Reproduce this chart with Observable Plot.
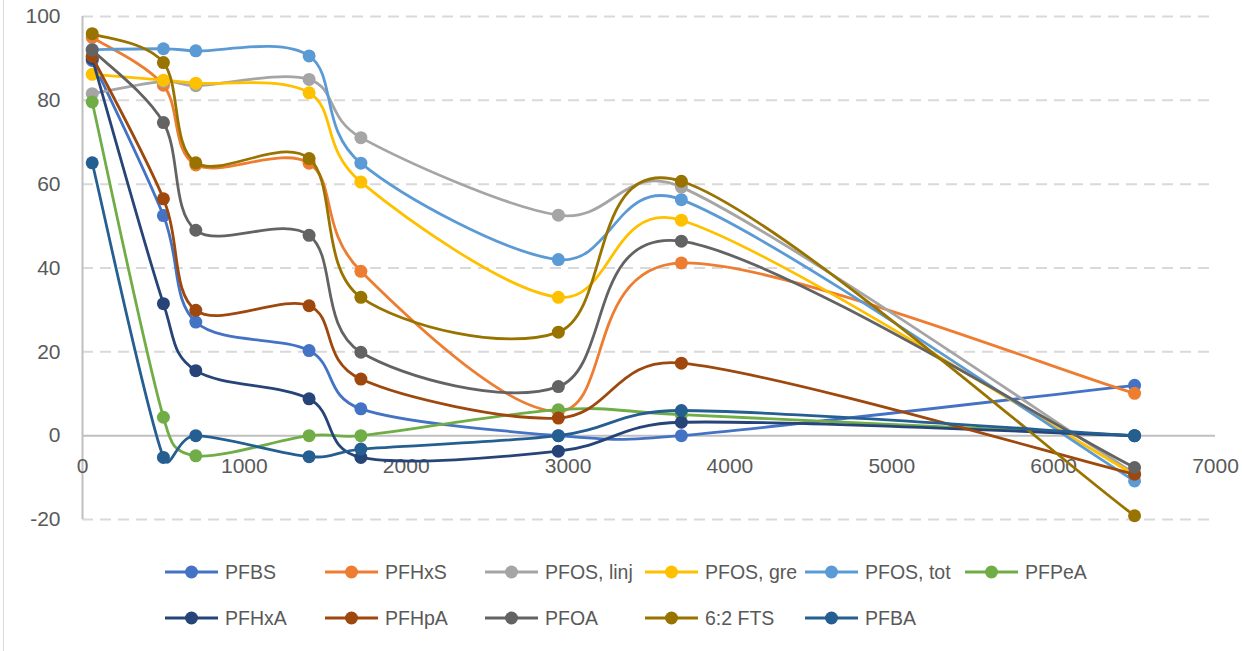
<!DOCTYPE html>
<html>
<head>
<meta charset="utf-8">
<script src="https://cdn.jsdelivr.net/npm/d3@7"></script>
<script src="https://cdn.jsdelivr.net/npm/@observablehq/plot@0.6"></script>
<style>
  html, body { margin: 0; padding: 0; background: #fff; }
  #wrap { position: relative; width: 1242px; height: 651px; overflow: hidden; }
  #frame { position: absolute; left: 3px; top: 0; width: 0; height: 651px; border-left: 1px solid #D9D9D9; }
  .leg { position: absolute; display: flex; align-items: center; height: 24px; font-family: "Liberation Sans", Arial, sans-serif; font-size: 19.5px; color: #595959; white-space: nowrap; }
  .leg svg { margin-right: 7px; }
</style>
</head>
<body>
<div id="wrap"><div id="frame"></div></div>
<script>
// Data
const xValues = [60, 500, 700, 1400, 1720, 2940, 3700, 6500];
const seriesNames = ["PFBS", "PFHxS", "PFOS, linj", "PFOS, gre", "PFOS, tot", "PFPeA", "PFHxA", "PFHpA", "PFOA", "6:2 FTS", "PFBA"];
const seriesColors = ["#4472C4", "#ED7D31", "#A5A5A5", "#FFC000", "#5B9BD5", "#70AD47", "#264478", "#9E480E", "#636363", "#997300", "#255E91"];

const PFBS     = [89.5, 52.5, 27.1, 20.3,  6.4,  0.0,  0.0,  12.0];
const PFHxS    = [95.0, 83.6, 64.6, 65.0, 39.2,  5.8, 41.2,  10.1];
const PFOS_linj= [81.6, 84.5, 83.5, 85.0, 71.1, 52.6, 59.3,  -9.0];
const PFOS_gre = [86.2, 84.8, 84.1, 81.8, 60.5, 33.0, 51.4,  -9.3];
const PFOS_tot = [92.1, 92.3, 91.8, 90.6, 65.0, 42.0, 56.3, -10.8];
const PFPeA    = [79.6,  4.4, -4.8,  0.0,  0.0,  6.2,  5.0,   0.0];
const PFHxA    = [90.0, 31.5, 15.5,  8.8, -5.2, -3.7,  3.2,   0.0];
const PFHpA    = [90.5, 56.5, 29.9, 31.0, 13.5,  4.2, 17.3,  -9.2];
const PFOA     = [92.0, 74.7, 49.0, 47.8, 19.9, 11.7, 46.4,  -7.6];
const FTS62    = [95.9, 89.0, 65.1, 66.1, 33.0, 24.7, 60.7, -19.1];
const PFBA     = [65.1, -5.2,  0.0, -5.0, -3.2,  0.0,  6.0,   0.0];

const seriesValues = [PFBS, PFHxS, PFOS_linj, PFOS_gre, PFOS_tot, PFPeA, PFHxA, PFHpA, PFOA, FTS62, PFBA];
const xTicks = [0, 1000, 2000, 3000, 4000, 5000, 6000, 7000];
const yTicks = [-20, 0, 20, 40, 60, 80, 100];

const tickFont = "'Liberation Sans', Arial, sans-serif";
const textColor = "#595959";

// Spreadsheet-style smoothed line: cubic Bezier with 1/6 tangent arms, capped at half the segment length
function SmoothCurve(context) { this._context = context; }
SmoothCurve.prototype = {
  areaStart() { this._line = 0; },
  areaEnd() { this._line = NaN; },
  lineStart() { this._pts = []; },
  point(x, y) { this._pts.push([+x, +y]); },
  lineEnd() {
    const p = this._pts, n = p.length, c = this._context;
    if (!n) return;
    c.moveTo(p[0][0], p[0][1]);
    if (n === 1) { c.closePath && 0; return; }
    const dist = (a, b) => Math.hypot(b[0] - a[0], b[1] - a[1]);
    for (let i = 0; i < n - 1; i++) {
      const p0 = p[Math.max(i - 1, 0)], p1 = p[i], p2 = p[i + 1], p3 = p[Math.min(i + 2, n - 1)];
      const d12 = dist(p1, p2), d02 = dist(p0, p2) || 1, d13 = dist(p1, p3) || 1;
      let f1 = 1 / 6, f2 = 1 / 6;
      if (d02 / 6 > d12 / 2) f1 = (d12 / 2) / d02;
      if (d13 / 6 > d12 / 2) f2 = (d12 / 2) / d13;
      const c1x = p1[0] + (p2[0] - p0[0]) * f1, c1y = p1[1] + (p2[1] - p0[1]) * f1;
      const c2x = p2[0] - (p3[0] - p1[0]) * f2, c2y = p2[1] - (p3[1] - p1[1]) * f2;
      c.bezierCurveTo(c1x, c1y, c2x, c2y, p2[0], p2[1]);
    }
  }
};
const smoothCurve = (context) => new SmoothCurve(context);

const seriesMarks = [];
seriesNames.forEach((name, i) => {
  const rows = xValues.map((x, j) => ({x, y: seriesValues[i][j], series: name}));
  seriesMarks.push(Plot.line(rows, {x: "x", y: "y", stroke: "series", strokeWidth: 2.8, curve: smoothCurve}));
  seriesMarks.push(Plot.dot(rows, {x: "x", y: "y", fill: "series", r: 6.5, stroke: "none"}));
});

const chart = Plot.plot({
  width: 1242,
  height: 540,
  marginLeft: 82,
  marginRight: 27,
  marginTop: 16,
  marginBottom: 21,
  x: {domain: [0, 7000], axis: null},
  y: {domain: [-20, 100], axis: null},
  color: {domain: seriesNames, range: seriesColors},
  style: {background: "transparent", fontFamily: tickFont},
  marks: [
    Plot.ruleY(yTicks.filter(d => d !== 0), {stroke: "#D9D9D9", strokeWidth: 2, strokeDasharray: "11,7"}),
    Plot.ruleY([0], {stroke: "#BFBFBF", strokeWidth: 2}),
    Plot.ruleX([0], {stroke: "#BFBFBF", strokeWidth: 2}),
    Plot.text(yTicks, {x: 0, y: d => d, text: d => String(d), textAnchor: "end", dx: -22, fontSize: 21, fill: textColor}),
    Plot.text(xTicks, {x: d => d, y: 0, text: d => String(d), dy: 31, fontSize: 21, fill: textColor}),
    ...seriesMarks
  ]
});

const wrap = document.getElementById("wrap");
chart.style.position = "absolute";
chart.style.left = "0px";
chart.style.top = "0px";
wrap.appendChild(chart);

// Legend (HTML, below the SVG)
const rowTops = [560, 606];
seriesNames.forEach((name, i) => {
  const row = i < 6 ? 0 : 1;
  const col = i < 6 ? i : i - 6;
  const item = document.createElement("div");
  item.className = "leg";
  item.style.left = (165 + col * 160) + "px";
  item.style.top = rowTops[row] + "px";
  const ns = "http://www.w3.org/2000/svg";
  const s = document.createElementNS(ns, "svg");
  s.setAttribute("width", 53);
  s.setAttribute("height", 16);
  const ln = document.createElementNS(ns, "line");
  ln.setAttribute("x1", 0); ln.setAttribute("x2", 53);
  ln.setAttribute("y1", 8); ln.setAttribute("y2", 8);
  ln.setAttribute("stroke", seriesColors[i]);
  ln.setAttribute("stroke-width", 3);
  const c = document.createElementNS(ns, "circle");
  c.setAttribute("cx", 26.5); c.setAttribute("cy", 8); c.setAttribute("r", 6.5);
  c.setAttribute("fill", seriesColors[i]);
  s.appendChild(ln); s.appendChild(c);
  const t = document.createElement("span");
  t.textContent = name;
  item.appendChild(s);
  item.appendChild(t);
  wrap.appendChild(item);
});
</script>
</body>
</html>
